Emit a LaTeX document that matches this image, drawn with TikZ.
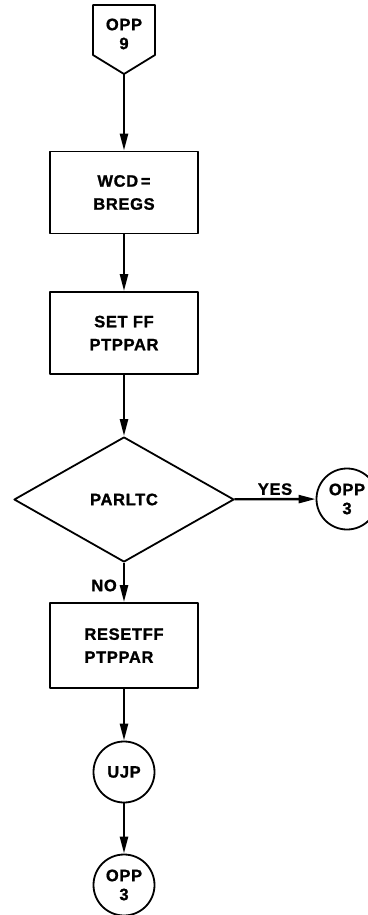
\documentclass[tikz,border=0pt]{standalone}
\usepackage{fontspec}
\newfontfamily\leroy{Liberation Sans Bold}[FakeBold=1.2,LetterSpace=4]
\usetikzlibrary{arrows.meta,shapes.geometric}

\begin{document}
\begin{tikzpicture}[x=1pt,y=-1pt,line join=round,
  outline/.style={draw,line width=1.8pt},
  lettering/.style={font=\leroy\fontsize{16.5}{19}\selectfont},
  boxlettering/.style={font=\leroy\fontsize{16.5}{23}\selectfont},
  procbox/.style={outline,boxlettering,rectangle,minimum width=148pt,minimum height=82pt,inner sep=0pt,align=center},
  conncircle/.style={outline,lettering,circle,minimum size=61pt,inner sep=0pt,align=center},
  decision/.style={outline,lettering,diamond,minimum width=220pt,minimum height=125pt,inner sep=0pt},
  flow/.style={line width=2.4pt,-{Triangle[length=17pt,width=8pt]}}]

\useasboundingbox (0,0) rectangle (367,915);

% off-page entry connector
\draw[outline] (93,55) -- (93,5) -- (155,5) -- (155,55) -- (124,74) -- cycle;
\node[lettering,align=center] (opp9) at (124,34) {OPP\\9};
\coordinate (opp9tip) at (124,74);

% process steps and decision
\node[procbox] (wcd) at (124,192.5) {WCD\,=\\BREGS};
\node[procbox] (setff) at (124,333) {SET FF\\PTPPAR};
\node[decision] (parltc) at (124,499.5) {PARLTC};
\node[conncircle] (opp3r) at (347,499) {OPP\\3};
\node[procbox,align=left,minimum height=85pt] (resetff) at (124,645.5) {RESETFF\\PTPPAR};
\node[conncircle] (ujp) at (124,772) {UJP};
\node[conncircle] (opp3b) at (124,885) {OPP\\3};

% flow lines
\draw[flow] (opp9tip) -- (wcd);
\draw[flow] (wcd) -- (setff);
\draw[flow] (setff) -- (parltc);
\draw[flow] (parltc) -- node[lettering,above,inner sep=3pt] {YES} (opp3r);
\draw[flow] (parltc) -- node[lettering,left,inner sep=6pt,yshift=-3pt] {NO} (resetff);
\draw[flow] (resetff) -- (ujp);
\draw[flow] (ujp) -- (opp3b);
\end{tikzpicture}
\end{document}
